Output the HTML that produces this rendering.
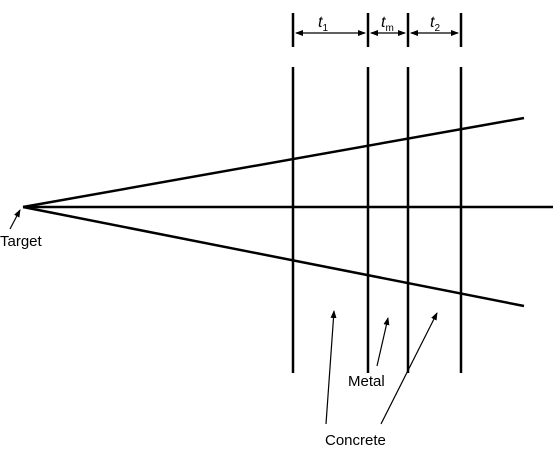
<!DOCTYPE html>
<html><head><style>body{margin:0;background:#fff}svg{display:block}text{font-family:"Liberation Sans",sans-serif;fill:#000}</style></head>
<body>
<svg width="560" height="452" viewBox="0 0 560 452">
<defs><marker id="ah" markerWidth="8" markerHeight="8" refX="7" refY="4" orient="auto-start-reverse" markerUnits="userSpaceOnUse"><path d="M0,1 L8,4 L0,7 Z" fill="#000"/></marker></defs>
<g stroke="#000" stroke-width="2.5" fill="none">
<line x1="23" y1="207" x2="524" y2="118"/>
<line x1="23" y1="207" x2="553" y2="207"/>
<line x1="23" y1="207" x2="524" y2="306"/>
<line x1="293" y1="67" x2="293" y2="373"/>
<line x1="368" y1="67" x2="368" y2="373"/>
<line x1="408" y1="67" x2="408" y2="373"/>
<line x1="461" y1="67" x2="461" y2="373"/>
<line x1="293" y1="13" x2="293" y2="47"/><line x1="368" y1="13" x2="368" y2="47"/><line x1="408" y1="13" x2="408" y2="47"/><line x1="461" y1="13" x2="461" y2="47"/>
</g>
<g stroke="#000" stroke-width="1.2" fill="none">
<line x1="296" y1="33" x2="365" y2="33" marker-end="url(#ah)" marker-start="url(#ah)"/>
<line x1="371" y1="33" x2="405" y2="33" marker-end="url(#ah)" marker-start="url(#ah)"/>
<line x1="411" y1="33" x2="458" y2="33" marker-end="url(#ah)" marker-start="url(#ah)"/>
<line x1="10" y1="229" x2="20" y2="210" marker-end="url(#ah)"/>
<line x1="377" y1="366" x2="388" y2="318" marker-end="url(#ah)"/>
<line x1="326" y1="424" x2="334" y2="311" marker-end="url(#ah)"/>
<line x1="381" y1="424" x2="437" y2="313" marker-end="url(#ah)"/>
</g>
<text x="318" y="27" font-size="16" font-style="italic">t<tspan font-size="10" font-style="normal" dy="4">1</tspan></text>
<text x="381" y="27" font-size="16" font-style="italic">t<tspan font-size="10" font-style="normal" dy="4">m</tspan></text>
<text x="430" y="27" font-size="16" font-style="italic">t<tspan font-size="10" font-style="normal" dy="4">2</tspan></text>
<text x="0" y="246" font-size="15">Target</text>
<text x="348" y="386" font-size="15">Metal</text>
<text x="325" y="445" font-size="15">Concrete</text>
</svg>
</body></html>
